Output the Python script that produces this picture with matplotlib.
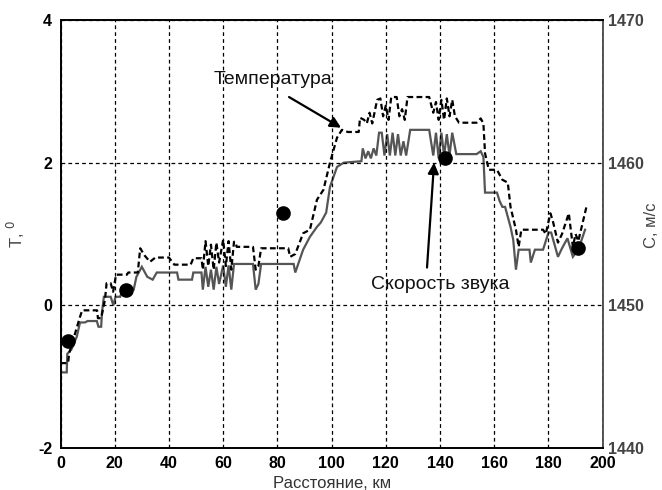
import matplotlib
matplotlib.use("Agg")
import matplotlib.pyplot as plt

plt.rcParams['font.family'] = ['Liberation Sans', 'DejaVu Sans']
plt.rcParams['axes.unicode_minus'] = False

# Temperature (left axis, deg) - dashed
temp_km = [0, 2.8, 3.2, 5.4, 7.2, 8, 13.5, 13.8, 15, 16.4, 17, 18.5, 19.4, 20.5, 24.5, 25, 28.5,
           29.4, 31, 33, 35, 40, 42, 48, 49, 52, 52.5, 53.5, 54.5, 55.5, 56.5, 57.5, 58.5, 60,
           61, 62, 63, 64, 64.5, 65, 71, 72, 73, 74, 84, 84.7, 86.6, 89.5, 92, 94.6, 97, 99.4,
           102, 103.8, 106, 110, 110.5, 112, 113, 114, 115, 116.8, 118, 119, 120, 121, 122, 124,
           125, 126, 127, 128, 136, 137.5, 138.5, 139.5, 140.5, 141.5, 142.5, 143.5, 144.5,
           145.5, 147, 153.5, 155, 156, 156.6, 158, 161, 163, 165, 166, 168, 169, 170, 178, 179,
           180.7, 181.5, 183.5, 185, 187.5, 189, 190, 191, 194]
temp_val = [-0.81, -0.81, -0.67, -0.39, -0.16, -0.07, -0.07, -0.18, -0.18, 0.08, 0.31, 0.31,
            0.19, 0.43, 0.43, 0.46, 0.46, 0.8, 0.7, 0.61, 0.67, 0.67, 0.57, 0.57, 0.66, 0.66,
            0.5, 0.9, 0.55, 0.85, 0.5, 0.88, 0.6, 0.92, 0.55, 0.9, 0.5, 0.89, 0.89, 0.82, 0.82,
            0.5, 0.55, 0.8, 0.8, 0.68, 0.72, 1.01, 1.06, 1.48, 1.62, 2.0, 2.35, 2.46, 2.43, 2.43,
            2.63, 2.6, 2.55, 2.7, 2.55, 2.88, 2.9, 2.65, 2.8, 2.6, 2.92, 2.92, 2.65, 2.75, 2.6,
            2.92, 2.92, 2.7, 2.85, 2.6, 2.88, 2.6, 2.9, 2.65, 2.88, 2.65, 2.56, 2.56, 2.62, 2.55,
            2.13, 1.9, 1.9, 1.76, 1.72, 1.38, 1.06, 0.82, 1.06, 1.06, 1.0, 1.29, 1.2, 0.88, 1.0,
            1.29, 0.82, 1.0, 0.9, 1.38]

# Sound speed (right axis, m/s) - solid gray
snd_km = [0, 2.3, 2.5, 4, 6, 7.2, 9, 10, 13.4, 14, 15, 15.3, 16, 18.5, 19.5, 20.3, 22, 23, 27,
          28, 30, 32, 34, 35.5, 43, 43.5, 48.5, 49, 52, 52.5, 53.5, 54.5, 55.5, 56.5, 57.5,
          58.5, 60, 61, 62, 63, 64, 71, 72, 73, 74, 86, 86.6, 89.5, 92, 94.6, 96, 98, 99.4, 102,
          104.5, 111, 111.5, 112.5, 113.5, 114.5, 115.5, 116.5, 117.5, 118.5, 119.5, 120.5,
          121.5, 122.5, 123.5, 124.5, 125.5, 126.5, 127.5, 129, 136, 137.5, 138.5, 139.5, 140.5,
          141.5, 142.5, 143.5, 144.5, 146, 153.5, 155, 156, 156.6, 161, 162, 163, 164, 166, 167,
          168, 169, 173, 173.5, 175, 178, 180, 181, 183.5, 185, 187, 189, 191, 193.5]
snd_val = [1445.3, 1445.3, 1446.6, 1446.9, 1447.8, 1448.8, 1448.8, 1448.9, 1448.9, 1448.5,
           1448.5, 1449.5, 1450.6, 1450.6, 1450.0, 1450.6, 1450.6, 1451.1, 1451.1, 1452.0,
           1452.7, 1452.0, 1451.8, 1452.3, 1452.3, 1451.8, 1451.8, 1452.3, 1452.3, 1451.1,
           1452.7, 1451.3, 1452.5, 1451.1, 1452.7, 1451.5, 1452.8, 1451.3, 1452.8, 1451.1,
           1452.9, 1452.9, 1451.1, 1451.5, 1452.9, 1452.9, 1452.3, 1453.9, 1454.8, 1455.5,
           1455.8, 1456.5, 1458.3, 1459.7, 1460.0, 1460.1, 1461.0, 1460.3, 1460.8, 1460.3,
           1461.0, 1460.5, 1462.1, 1462.1, 1460.5, 1462.0, 1460.5, 1462.1, 1460.5, 1462.0,
           1460.5, 1461.5, 1460.5, 1462.3, 1462.3, 1460.5, 1462.1, 1460.3, 1462.1, 1460.5,
           1462.0, 1460.5, 1462.1, 1460.6, 1460.6, 1460.8, 1460.4, 1457.9, 1457.9, 1457.3,
           1456.9, 1456.9, 1455.5, 1454.6, 1452.5, 1453.9, 1453.9, 1453.0, 1453.9, 1453.9,
           1455.1, 1455.1, 1453.4, 1454.0, 1454.7, 1453.4, 1453.9, 1455.3]

# Measured temperature points
pt_km = [2.8, 24, 82, 142, 191]
pt_val = [-0.5, 0.22, 1.3, 2.07, 0.8]

x_ticks = [0, 20, 40, 60, 80, 100, 120, 140, 160, 180, 200]
t_ticks = [-2, 0, 2, 4]
c_ticks = [1440, 1450, 1460, 1470]

fig = plt.figure(figsize=(6.62, 4.9), dpi=100)
ax = fig.add_axes([0.0914, 0.0857, 0.8190, 0.8735])
ax2 = ax.twinx()

ax2.plot(snd_km, snd_val, color='#555555', lw=1.6, solid_joinstyle='miter')
ax.plot(temp_km, temp_val, color='black', lw=1.6, linestyle=(0, (2.6, 1.5)))
ax.plot(pt_km, pt_val, 'o', color='black', ms=9.5, linestyle='none')

ax.set_zorder(ax2.get_zorder() + 1)
ax.patch.set_visible(False)

ax.set_xlim(0, 200)
ax.set_ylim(-2, 4)
ax2.set_ylim(1440, 1470)
ax.set_xticks(x_ticks)
ax.set_yticks(t_ticks)
ax2.set_yticks(c_ticks)

ax.grid(True, color='black', lw=0.9, linestyle=(0, (3, 2.5)))
ax.tick_params(length=0, labelsize=11.5, pad=6)
ax2.tick_params(length=0, labelsize=11.5, pad=4, labelcolor='#444444')
for lbl in ax.get_xticklabels() + ax.get_yticklabels():
    lbl.set_fontweight('bold')
for lbl in ax2.get_yticklabels():
    lbl.set_fontweight('bold')

for s in ['left', 'bottom', 'top']:
    ax.spines[s].set_linewidth(1.4)
    ax.spines[s].set_color('black')
for s in ['left', 'bottom', 'top']:
    ax2.spines[s].set_visible(False)
ax2.spines['right'].set_color('#555555')
ax2.spines['right'].set_linewidth(1.4)
ax.spines['right'].set_visible(False)

ax.set_xlabel('Расстояние, км', fontsize=12, color='#333333', labelpad=3)
ax.set_ylabel('T, $^0$', fontsize=12, color='#444444')
ax.yaxis.set_label_coords(-0.062, 0.5)
ax2.set_ylabel('С, м/с', fontsize=12, color='#444444')
ax2.yaxis.set_label_coords(1.076, 0.52)

arrow_kw = dict(arrowstyle='-|>', color='black', lw=1.6, mutation_scale=16,
                shrinkA=0, shrinkB=0)
ax.text(78.4, 3.16, 'Температура', fontsize=14, ha='center', va='center', color='#111111')
ax.annotate('', xy=(103.5, 2.49), xytext=(84.3, 2.92), arrowprops=arrow_kw)
ax.text(140, 0.29, 'Скорость звука', fontsize=14, ha='center', va='center', color='#111111')
ax.annotate('', xy=(137.8, 2.0), xytext=(135.2, 0.53), arrowprops=arrow_kw)

fig.savefig('out.png', dpi=100)
